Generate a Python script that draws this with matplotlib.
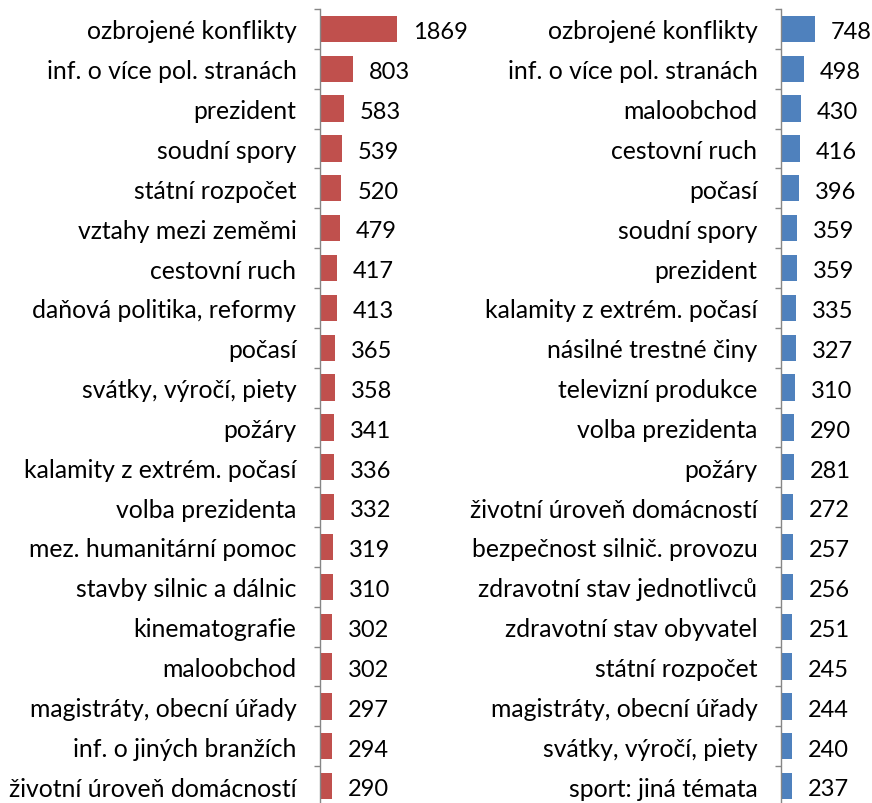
import matplotlib
matplotlib.use('Agg')
import matplotlib.pyplot as plt
from matplotlib.ticker import FixedLocator

plt.rcParams['font.family'] = ['Lato', 'DejaVu Sans']

left_labels = ['ozbrojené konflikty', 'inf. o více pol. stranách', 'prezident', 'soudní spory',
               'státní rozpočet', 'vztahy mezi zeměmi', 'cestovní ruch', 'daňová politika, reformy',
               'počasí', 'svátky, výročí, piety', 'požáry', 'kalamity z extrém. počasí',
               'volba prezidenta', 'mez. humanitární pomoc', 'stavby silnic a dálnic',
               'kinematografie', 'maloobchod', 'magistráty, obecní úřady', 'inf. o jiných branžích',
               'životní úroveň domácností']
left_values = [1869, 803, 583, 539, 520, 479, 417, 413, 365, 358, 341, 336, 332, 319, 310,
               302, 302, 297, 294, 290]

right_labels = ['ozbrojené konflikty', 'inf. o více pol. stranách', 'maloobchod', 'cestovní ruch',
                'počasí', 'soudní spory', 'prezident', 'kalamity z extrém. počasí',
                'násilné trestné činy', 'televizní produkce', 'volba prezidenta', 'požáry',
                'životní úroveň domácností', 'bezpečnost silnič. provozu',
                'zdravotní stav jednotlivců', 'zdravotní stav obyvatel', 'státní rozpočet',
                'magistráty, obecní úřady', 'svátky, výročí, piety', 'sport: jiná témata']
right_values = [748, 498, 430, 416, 396, 359, 359, 335, 327, 310, 290, 281, 272, 257, 256,
                251, 245, 244, 240, 237]

W, H = 872, 804
fig = plt.figure(figsize=(W / 100, H / 100), dpi=100)

top = 1 - 10 / H
bottom = 1 - 807 / H
ax1 = fig.add_axes([320 / W, bottom, 150 / W, top - bottom])
ax2 = fig.add_axes([781 / W, bottom, 91 / W, top - bottom])

fs = 17.8
fs_val = 17


def draw(ax, labels, values, color, xmax):
    n = len(labels)
    y = list(range(n))
    ax.barh(y, values, height=0.66, color=color, zorder=2)
    ax.set_xlim(0, xmax)
    ax.set_ylim(n - 0.5, -0.5)
    for i, v in enumerate(values):
        ax.annotate(str(v), (v, i), xytext=(11.5, -2), textcoords='offset points',
                    ha='left', va='center', fontsize=fs_val, color='black', clip_on=False)
    ax.set_yticks(y)
    ax.set_yticklabels(labels, fontsize=fs)
    ax.yaxis.set_minor_locator(FixedLocator([i - 0.5 for i in range(n + 1)]))
    ax.tick_params(axis='y', which='major', length=0, pad=17)
    ax.tick_params(axis='y', which='minor', length=4.5, width=1, color='#868686', direction='out')
    ax.set_xticks([])
    for s in ['top', 'right', 'bottom']:
        ax.spines[s].set_visible(False)
    ax.spines['left'].set_color('#868686')
    ax.spines['left'].set_linewidth(1)
    ax.patch.set_alpha(0)


draw(ax1, left_labels, left_values, '#C0504D', 1869 * 150 / 77)
draw(ax2, right_labels, right_values, '#4F81BD', 748 * 91 / 34)

fig.savefig('out.png', dpi=100)
